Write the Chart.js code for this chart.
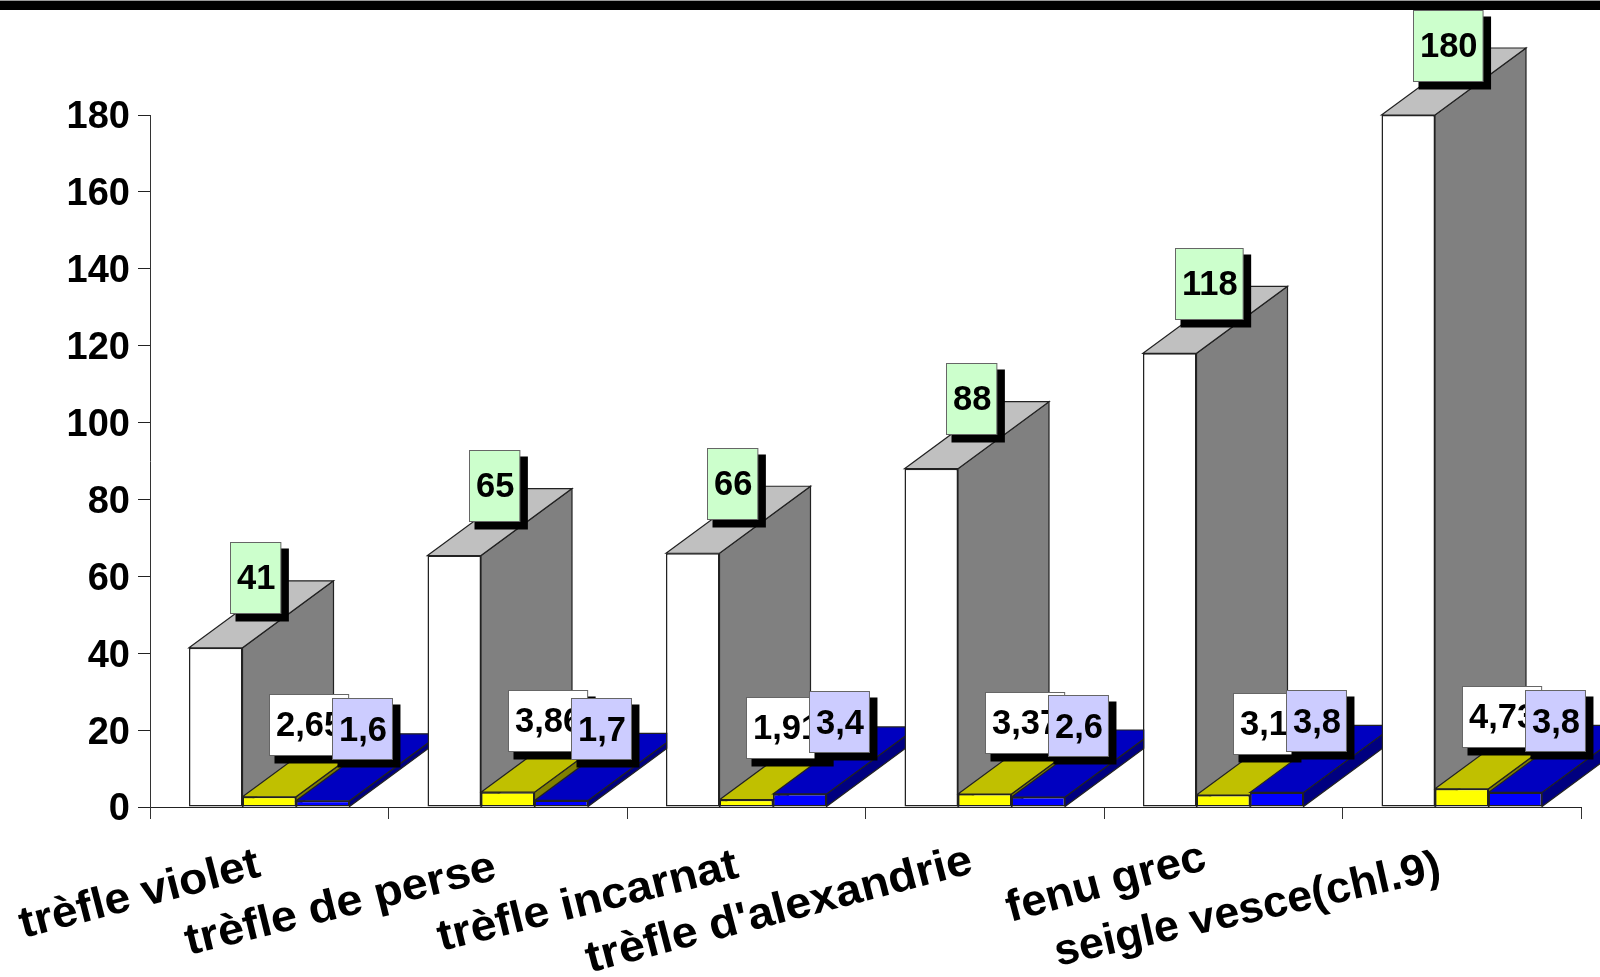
<!DOCTYPE html>
<html>
<head>
<meta charset="utf-8">
<title>Chart</title>
<script src="https://cdn.jsdelivr.net/npm/chart.js@4/dist/chart.umd.min.js"></script>
<style>
  html, body { margin: 0; padding: 0; background: #fff; overflow: hidden; }
  canvas { display: block; }
</style>
</head>
<body>
<canvas id="myChart" width="1600" height="977"></canvas>
<script>
const categories = ["trèfle violet", "trèfle de perse", "trèfle incarnat", "trèfle d'alexandrie", "fenu grec", "seigle vesce(chl.9)"];
const whiteBars = [41.4, 65.4, 66, 88, 118, 180];
const yellowBars = [2.65, 3.86, 1.91, 3.37, 3.1, 4.73];
const blueBars = [1.6, 1.7, 3.4, 2.6, 3.8, 3.8];

// where each category label starts and ends, relative to the category centre
const labelLines = [
  [-246, 131, -7, 69],
  [-319, 148, -9.5, 72],
  [-305, 144, -6, 70],
  [-395, 165.5, -10, 65.5],
  [-213, 115, -15, 62],
  [-404, 159, -19, 72]
];

const FONT = '"Liberation Sans", Arial, sans-serif';
const DEPTH_X = 91, DEPTH_Y = 67;

const faces = [
  {side: "#808080", top: "#c0c0c0", box: "#ccffcc", boxH: 71, lift: 70, textDown: 1, whole: true},
  {side: "#808000", top: "#c0c000", box: "#ffffff", boxH: 61, lift: 72, textDown: 1.5},
  {side: "#000080", top: "#0000c0", box: "#ccccff", boxH: 61, lift: 72, textDown: 2}
];

function poly(ctx, pts, fill) {
  ctx.beginPath();
  pts.forEach((p, i) => i ? ctx.lineTo(p[0], p[1]) : ctx.moveTo(p[0], p[1]));
  ctx.closePath();
  ctx.fillStyle = fill;
  ctx.fill();
  ctx.strokeStyle = "#222";
  ctx.lineWidth = 1.2;
  ctx.stroke();
}

const bars3d = {
  id: "bars3d",
  beforeDraw(chart) {
    const ctx = chart.ctx;
    ctx.fillStyle = "#fff";
    ctx.fillRect(0, 0, chart.width, chart.height);
    ctx.fillStyle = "#999";
    ctx.fillRect(0, 0, chart.width, 1);
    ctx.fillStyle = "#000";
    ctx.fillRect(0, 1, chart.width, 9);
  },
  // sides and tops go under the bar fronts, so the next white bar hides the blue side
  beforeDatasetsDraw(chart) {
    const ctx = chart.ctx;
    categories.forEach((c, i) => {
      faces.forEach((f, d) => {
        const b = chart.getDatasetMeta(d).data[i];
        const l = b.x - b.width / 2, r = b.x + b.width / 2;
        poly(ctx, [[r, b.y], [r + DEPTH_X, b.y - DEPTH_Y], [r + DEPTH_X, b.base - DEPTH_Y], [r, b.base]], f.side);
        poly(ctx, [[l, b.y], [l + DEPTH_X, b.y - DEPTH_Y], [r + DEPTH_X, b.y - DEPTH_Y], [r, b.y]], f.top);
      });
    });
  },
  afterDatasetsDraw(chart) {
    const ctx = chart.ctx;
    ctx.save();
    ctx.font = "bold 34.5px " + FONT;
    ctx.textBaseline = "middle";
    categories.forEach((c, i) => {
      faces.forEach((f, d) => {
        const b = chart.getDatasetMeta(d).data[i];
        const v = chart.data.datasets[d].data[i];
        const txt = String(f.whole ? Math.round(v) : v).replace(".", ",");
        const w = ctx.measureText(txt).width + 12;
        const x = Math.round(b.x + 39.5 - w / 2) + 0.5;
        const y = Math.round(b.y - f.lift - f.boxH / 2) + 0.5;
        ctx.fillStyle = "#000";
        ctx.fillRect(x + 5, y + 6, w + 3, f.boxH + 2);
        ctx.fillStyle = f.box;
        ctx.fillRect(x, y, w, f.boxH);
        ctx.strokeStyle = "#666";
        ctx.lineWidth = 1;
        ctx.strokeRect(x, y, w, f.boxH);
        ctx.fillStyle = "#000";
        ctx.textAlign = "left";
        ctx.fillText(txt, x + 6.5, y + f.boxH / 2 + f.textDown);
      });
    });
    ctx.restore();
  },
  afterDraw(chart) {
    const ctx = chart.ctx;
    const xs = chart.scales.x;
    ctx.save();
    ctx.fillStyle = "#000";
    ctx.textBaseline = "alphabetic";
    ctx.textAlign = "left";
    ctx.font = "bold 44px " + FONT;
    categories.forEach((c, i) => {
      const cx = xs.getPixelForValue(i);
      const [x0, y0, x1, y1] = labelLines[i];
      const len = Math.hypot(x1 - x0, y1 - y0);
      ctx.save();
      ctx.translate(cx + x0, xs.top + y0);
      ctx.rotate(Math.atan2(y1 - y0, x1 - x0));
      ctx.scale(len / ctx.measureText(c).width, 1);
      ctx.fillText(c, 0, 0);
      ctx.restore();
    });
    ctx.restore();
  }
};

new Chart("myChart", {
  type: "bar",
  data: {
    labels: categories,
    datasets: [
      {data: whiteBars, backgroundColor: "#ffffff"},
      {data: yellowBars, backgroundColor: "#ffff00"},
      {data: blueBars, backgroundColor: "#0000ff"}
    ]
  },
  plugins: [bars3d],
  options: {
    responsive: false,
    animation: false,
    layout: {padding: {top: 115, right: 19, left: 0, bottom: 0}},
    plugins: {legend: {display: false}, tooltip: {enabled: false}},
    datasets: {
      bar: {
        barPercentage: 1,
        categoryPercentage: 0.673,
        borderWidth: 1.5,
        borderColor: "#222",
        borderSkipped: false
      }
    },
    scales: {
      x: {
        afterFit(s) { s.height = 170; },
        grid: {drawOnChartArea: false, tickLength: 12, tickColor: "#333", tickWidth: 1},
        border: {color: "#222"},
        ticks: {display: false}
      },
      y: {
        min: 0,
        max: 180,
        afterFit(s) { s.width = 150; },
        grid: {drawOnChartArea: false, tickLength: 12, tickColor: "#222", tickWidth: 1},
        border: {color: "#333"},
        ticks: {
          stepSize: 20,
          padding: 8,
          color: "#000",
          // empty first line with a small line height nudges the number down a bit
          callback: v => ["", String(v)],
          font: {family: FONT, size: 38, weight: "bold", lineHeight: "6px"}
        }
      }
    }
  }
});
</script>
</body>
</html>
